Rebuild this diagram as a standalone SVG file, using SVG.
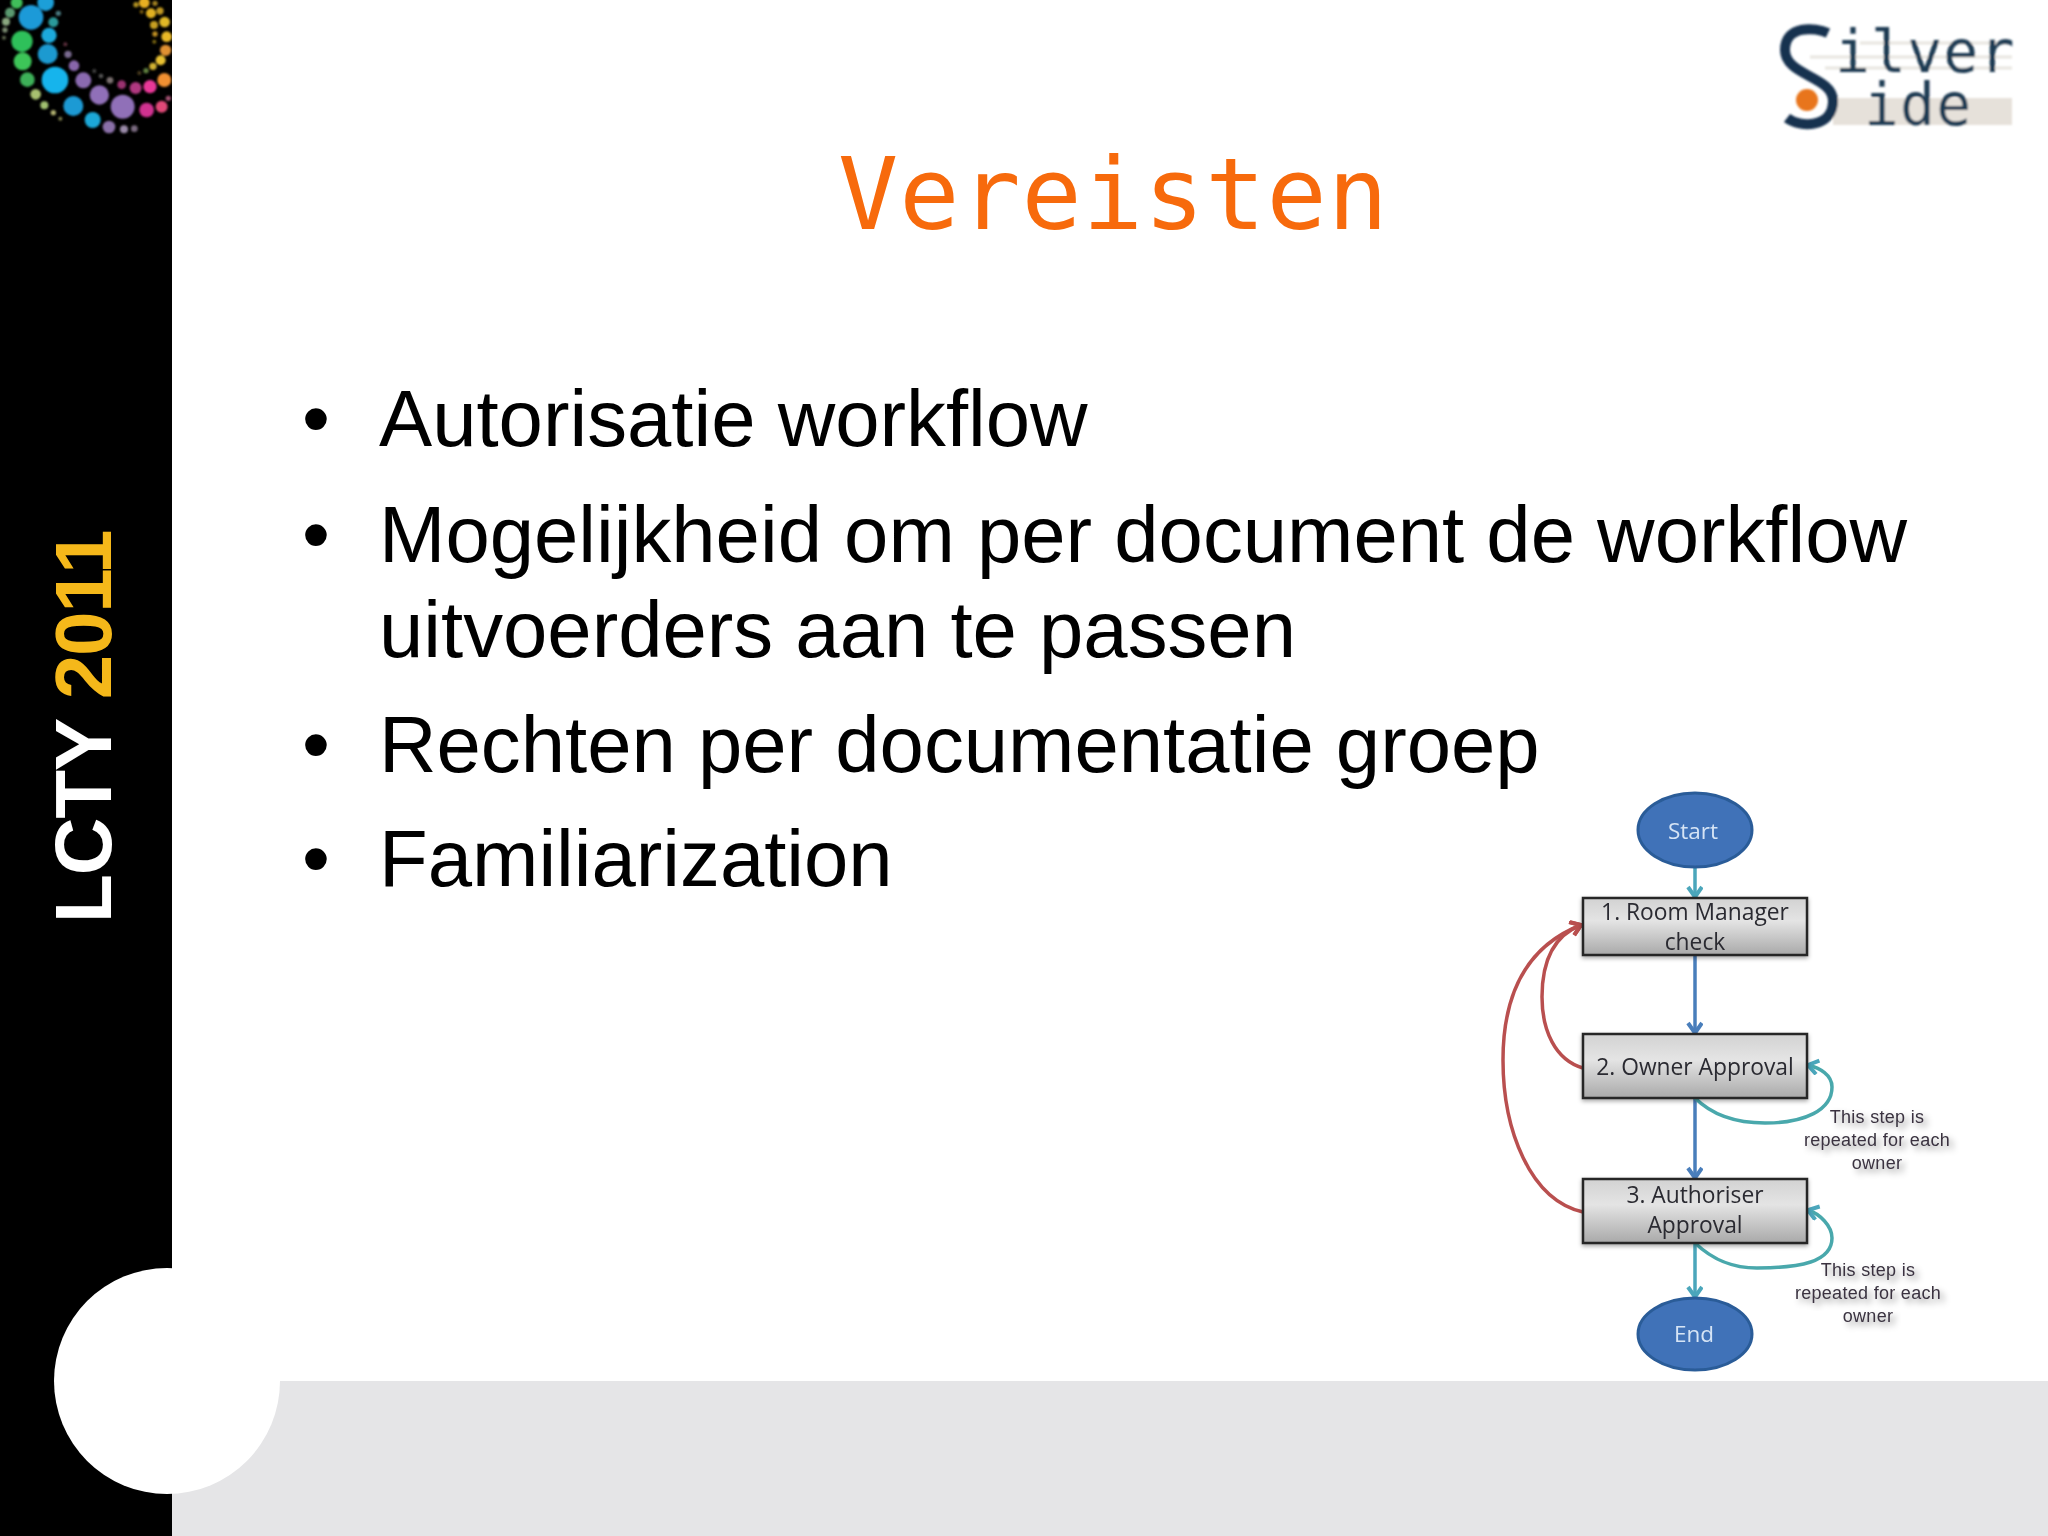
<svg xmlns="http://www.w3.org/2000/svg" width="2048" height="1536" viewBox="0 0 2048 1536">
<style>
.body{font-family:"Liberation Sans",Arial,sans-serif;font-size:79.7px;fill:#000}
.box{fill:url(#boxfill);stroke:#262626;stroke-width:2.5;filter:url(#boxshadow)}
.oval{fill:#3f72b8;stroke:#2b5c98;stroke-width:3}
.lbl{font-family:"Open Sans","Noto Sans",sans-serif;font-size:22.8px;fill:#2a2a30;text-anchor:middle}
.ovl{font-family:"Open Sans","Noto Sans",sans-serif;font-size:22.5px;fill:#d6e4f5;text-anchor:middle}
.note{font-family:"Liberation Sans",Arial,sans-serif;font-size:18px;letter-spacing:.3px;fill:#3a3340;text-anchor:middle;filter:url(#textshadow)}
.c{fill:none;stroke-width:3.5}
.blue{stroke:#4a7ebb;marker-end:url(#ab)}
.teal{stroke:#4ba6bb;marker-end:url(#at)}
.loop{stroke:#4aa8ac;marker-end:url(#at)}
.red{stroke:#b9504f;marker-end:url(#ar)}
.mono{font-family:"DejaVu Sans Mono",monospace}
</style>
<defs>
<linearGradient id="boxfill" x1="0" y1="0" x2="0" y2="1">
<stop offset="0" stop-color="#d2d2d2"/><stop offset=".4" stop-color="#e4e4e4"/><stop offset="1" stop-color="#a9a9a9"/>
</linearGradient>
<filter id="boxshadow" x="-5%" y="-10%" width="110%" height="125%"><feDropShadow dx="0" dy="2" stdDeviation="2" flood-color="#000" flood-opacity=".35"/></filter>
<filter id="textshadow" x="-10%" y="-30%" width="125%" height="170%"><feDropShadow dx="4" dy="4" stdDeviation="3" flood-color="#000" flood-opacity=".4"/></filter>
<filter id="soft" x="-5%" y="-5%" width="110%" height="110%"><feGaussianBlur stdDeviation="3"/></filter>
<filter id="soft2" filterUnits="userSpaceOnUse" x="1480" y="770" width="568" height="610"><feGaussianBlur stdDeviation=".6"/></filter>
<filter id="soft3" filterUnits="userSpaceOnUse" x="1760" y="0" width="288" height="150"><feGaussianBlur stdDeviation=".8"/></filter>
<marker id="ab" markerUnits="userSpaceOnUse" markerWidth="20" markerHeight="20" refX="13" refY="8" orient="auto"><path d="M3 1 L13 8 L3 15" fill="none" stroke="#4a7ebb" stroke-width="4"/></marker>
<marker id="at" markerUnits="userSpaceOnUse" markerWidth="20" markerHeight="20" refX="13" refY="8" orient="auto"><path d="M3 1 L13 8 L3 15" fill="none" stroke="#4ba6bb" stroke-width="4"/></marker>
<marker id="ar" markerUnits="userSpaceOnUse" markerWidth="20" markerHeight="20" refX="13" refY="8" orient="auto"><path d="M3 1 L13 8 L3 15" fill="none" stroke="#b9504f" stroke-width="4"/></marker>
</defs>
<rect width="2048" height="1536" fill="#fff"/>
<rect x="172" y="1381" width="1876" height="155" fill="#e5e5e7"/>
<rect width="172" height="1536" fill="#000"/>
<circle cx="167" cy="1381" r="113" fill="#fff"/>
<g id="swirl" transform="scale(.3333)" filter="url(#soft)">
<circle cx="50" cy="8" r="18" fill="#3fbf5a"/><circle cx="137" cy="8" r="25" fill="#1a9fd8"/><circle cx="30" cy="38" r="15" fill="#5a9a70"/><circle cx="93" cy="52" r="37" fill="#1e9ad8"/><circle cx="160" cy="67" r="15" fill="#2a9a9a"/><circle cx="175" cy="40" r="8" fill="#4a7a80"/><circle cx="18" cy="65" r="12" fill="#8aa880"/><circle cx="15" cy="90" r="8" fill="#7a8a70"/><circle cx="12" cy="113" r="6" fill="#606a50"/><circle cx="147" cy="106" r="23" fill="#1eaadc"/><circle cx="66" cy="124" r="32" fill="#2fc05a"/><circle cx="143" cy="162" r="30" fill="#1f9ad0"/><circle cx="68" cy="184" r="27" fill="#3dc558"/><circle cx="204" cy="163" r="11" fill="#7a6a90"/><circle cx="222" cy="197" r="16" fill="#8866aa"/><circle cx="165" cy="240" r="40" fill="#14b4ec"/><circle cx="82" cy="239" r="22" fill="#3db058"/><circle cx="250" cy="241" r="24" fill="#8a6ab0"/><circle cx="107" cy="283" r="16" fill="#a8c070"/><circle cx="298" cy="285" r="29" fill="#9070b8"/><circle cx="220" cy="318" r="30" fill="#1c9ad4"/><circle cx="133" cy="316" r="12" fill="#a0c070"/><circle cx="368" cy="320" r="36" fill="#9070b8"/><circle cx="278" cy="360" r="24" fill="#1aa8d8"/><circle cx="327" cy="381" r="19" fill="#8a70a8"/><circle cx="372" cy="388" r="12" fill="#9a8aa8"/><circle cx="160" cy="338" r="8" fill="#b0b070"/><circle cx="181" cy="356" r="6" fill="#808050"/><circle cx="403" cy="386" r="10" fill="#7a6a80"/><circle cx="440" cy="330" r="22" fill="#d03090"/><circle cx="485" cy="320" r="18" fill="#e04878"/><circle cx="450" cy="260" r="20" fill="#e83898"/><circle cx="407" cy="264" r="18" fill="#b03880"/><circle cx="365" cy="254" r="13" fill="#9a3070"/><circle cx="330" cy="241" r="10" fill="#7a7070"/><circle cx="303" cy="228" r="7" fill="#555"/><circle cx="283" cy="213" r="6" fill="#444"/><circle cx="493" cy="240" r="21" fill="#f09030"/><circle cx="505" cy="295" r="8" fill="#a05070"/><circle cx="482" cy="181" r="15" fill="#e8c030"/><circle cx="459" cy="199" r="11" fill="#d0b030"/><circle cx="438" cy="212" r="8" fill="#608040"/><circle cx="418" cy="219" r="6" fill="#504020"/><circle cx="497" cy="151" r="17" fill="#e09030"/><circle cx="500" cy="110" r="16" fill="#e8b828"/><circle cx="494" cy="66" r="16" fill="#e0b828"/><circle cx="465" cy="102" r="8" fill="#c09020"/><circle cx="462" cy="75" r="12" fill="#c8a020"/><circle cx="453" cy="40" r="15" fill="#e0b020"/><circle cx="480" cy="33" r="11" fill="#c09820"/><circle cx="433" cy="8" r="16" fill="#e8b020"/><circle cx="465" cy="10" r="8" fill="#a08020"/><circle cx="408" cy="14" r="8" fill="#b09020"/><circle cx="425" cy="35" r="6" fill="#806010"/><circle cx="463" cy="125" r="6" fill="#806a10"/><circle cx="196" cy="133" r="6" fill="#603040"/>
</g>
<rect x="172" y="0" width="8" height="150" fill="#fff"/>
<text transform="translate(111 923) rotate(-90)" font-family="Liberation Sans,Arial,sans-serif" font-weight="700" font-size="80" letter-spacing="-1.2" fill="#fff">LCTY <tspan fill="#f5b81a">2011</tspan></text>
<g id="logo" filter="url(#soft3)">
<rect x="1833" y="98" width="179" height="27" fill="#e6e1da"/>
<path d="M1860 43H2012M1810 57H2012M1825 68H2012" stroke="#e8e6e0" stroke-width="3" fill="none"/>
<path d="M1828 33 C1815 27 1785 25 1785 50 C1785 76 1833 76 1833 101 C1833 128 1800 128 1787 118" fill="none" stroke="#15304f" stroke-width="10"/>
<circle cx="1807" cy="100" r="11" fill="#e8751a"/>
<text x="1835" y="72" class="mono" font-size="58" letter-spacing="1.2" fill="#1f3a52">ilver</text>
<text x="1864" y="125" class="mono" font-size="58" letter-spacing="1.2" fill="#1f3a52">ide</text>
</g>
<text x="838" y="229" class="mono" font-size="100" letter-spacing="1" fill="#f76a0c">Vereisten</text>
<g id="bullets">
<text x="302" y="445.5" class="body">•</text><text x="379" y="445.5" class="body">Autorisatie workflow</text>
<text x="302" y="561.5" class="body">•</text><text x="379" y="561.5" class="body">Mogelijkheid om per document de workflow</text>
<text x="379" y="656.5" class="body">uitvoerders aan te passen</text>
<text x="302" y="771.5" class="body">•</text><text x="379" y="771.5" class="body">Rechten per documentatie groep</text>
<text x="302" y="885.5" class="body">•</text><text x="379" y="885.5" class="body">Familiarization</text>
</g>
<g id="flow" filter="url(#soft2)">
<g id="connectors">
<path class="c teal" d="M1695 867V897"/>
<path class="c blue" d="M1695 955V1033"/>
<path class="c blue" d="M1695 1098V1178"/>
<path class="c teal" d="M1695 1243V1297"/>
<path class="c red" d="M1583 1068C1555 1060 1542 1030 1542 997C1542 960 1555 935 1581 925"/>
<path class="c red" d="M1583 1212C1530 1200 1503 1130 1503 1060C1503 990 1530 945 1581 925"/>
<path class="c loop" d="M1695 1098C1715 1118 1740 1123 1765 1123C1805 1123 1832 1110 1832 1087C1832 1075 1820 1068 1808 1065"/>
<path class="c loop" d="M1695 1243C1715 1262 1735 1268 1757 1268C1800 1268 1832 1262 1832 1238C1832 1226 1820 1214 1808 1210"/>
</g>
<g id="start"><ellipse class="oval" cx="1695" cy="830" rx="57" ry="37"/><text class="ovl" x="1693" y="839">Start</text></g>
<g id="step1"><rect class="box" x="1583" y="898" width="224" height="57"/><text class="lbl" x="1695" y="920">1. Room Manager</text><text class="lbl" x="1695" y="950">check</text></g>
<g id="step2"><rect class="box" x="1583" y="1034" width="224" height="64"/><text class="lbl" x="1695" y="1075">2. Owner Approval</text></g>
<g id="step3"><rect class="box" x="1583" y="1179" width="224" height="64"/><text class="lbl" x="1695" y="1203">3. Authoriser</text><text class="lbl" x="1695" y="1233">Approval</text></g>
<g id="end"><ellipse class="oval" cx="1695" cy="1334" rx="57" ry="36"/><text class="ovl" x="1694" y="1342">End</text></g>
<g id="note1"><text class="note" x="1877" y="1123">This step is</text><text class="note" x="1877" y="1146">repeated for each</text><text class="note" x="1877" y="1169">owner</text></g>
<g id="note2"><text class="note" x="1868" y="1276">This step is</text><text class="note" x="1868" y="1299">repeated for each</text><text class="note" x="1868" y="1322">owner</text></g>
</g>
</svg>
